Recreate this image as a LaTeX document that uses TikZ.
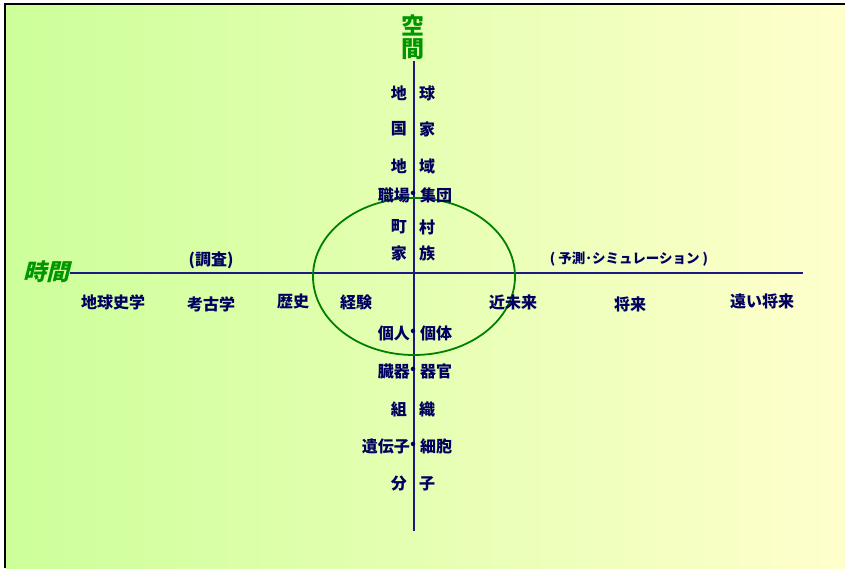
\documentclass[tikz,border=0pt]{standalone}
\usepackage{fontspec}
\usetikzlibrary{shapes.geometric}
\newfontfamily\jp{Noto Sans CJK JP}
\newfontfamily\jpsl{Noto Sans CJK JP}[FakeSlant=0.25]
\definecolor{txt}{RGB}{0,0,96}
\definecolor{axiscol}{RGB}{26,26,130}
\definecolor{ringcol}{RGB}{0,128,0}
\definecolor{headcol}{RGB}{0,150,0}
\definecolor{bgL}{RGB}{204,255,153}
\definecolor{bgR}{RGB}{255,255,204}
\begin{document}
\begin{tikzpicture}[x=1pt,y=-1pt,
  lbl/.style={font=\jp\bfseries\fontsize{16}{16}\selectfont, text=txt, inner sep=0pt},
  small/.style={font=\jp\bfseries\fontsize{13.5}{14}\selectfont, text=txt, inner sep=0pt},
  head/.style={font=\jp\bfseries\fontsize{23}{24}\selectfont, text=headcol, inner sep=0pt, align=center},
  axisline/.style={draw=axiscol, line width=2pt},
  ring/.style={draw=ringcol, line width=1.8pt}]
\useasboundingbox (0,0) rectangle (845,568);
\shade[left color=bgL, right color=bgR] (5,4) rectangle (845,568);
\draw[line width=2.5pt] (5,568) -- (5,4) -- (845,4);

% axis end points
\coordinate (vtop) at (414,61);
\coordinate (vbot) at (414,531);
\coordinate (hleft) at (70,273);
\coordinate (hright) at (803,273);
\draw[axisline] (vtop) -- (vbot);
\draw[axisline] (hleft) -- (hright);

% ellipse
\node[ring, ellipse, minimum width=202pt, minimum height=157pt, inner sep=0pt] (circ) at (414,276.5) {};

% headings
\node[head, font=\jp\bfseries\fontsize{23}{24}\selectfont] (space) at (413,37) {空\\[-1pt]間};
\node[head, font=\jpsl\bfseries\fontsize{23}{24}\selectfont] (time) at (46,272) {時間};

% vertical rows without dot
\foreach \n/\l/\r/\y in {a/地/球/93, b/国/家/129, c/地/域/166, d/町/村/227, e/家/族/253, f/組/織/409, g/分/子/484}{
  \node[lbl, anchor=east] (L\n) at (407,\y) {\l};
  \node[lbl, anchor=west] (R\n) at (419,\y) {\r};
}
% vertical rows with dot
\foreach \n/\l/\r/\y in {h/職場/集団/195, i/個人/個体/333, j/臓器/器官/371, k/遺伝子/細胞/446}{
  \node[lbl, anchor=east] (L\n) at (410,\y) {\l};
  \node[lbl] (D\n) at (413,\y) {・};
  \node[lbl, anchor=west] (R\n) at (420,\y) {\r};
}

% horizontal labels
\node[lbl] (chosa) at (211,260) {(調査)};
\node[small] (yosoku) at (629,259) {( 予測･シミュレーション )};
\node[lbl] (chikyu) at (113,302) {地球史学};
\node[lbl] (kouko) at (211,304) {考古学};
\node[lbl] (rekishi) at (293,302) {歴史};
\node[lbl] (keiken) at (356,302) {経験};
\node[lbl] (kinmirai) at (513,302) {近未来};
\node[lbl] (shorai) at (630,304) {将来};
\node[lbl] (toi) at (762,301) {遠い将来};
\end{tikzpicture}
\end{document}
